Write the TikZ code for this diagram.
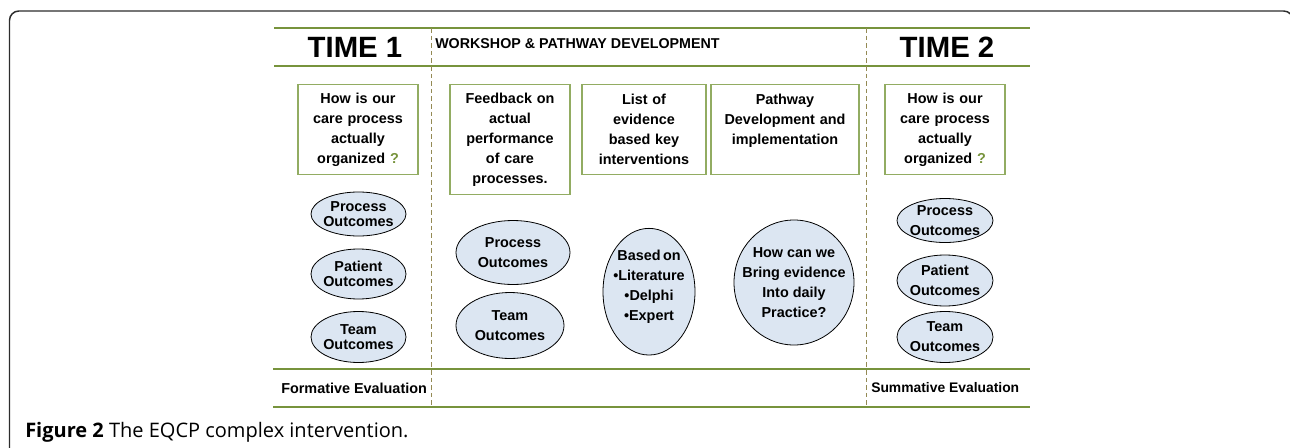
\documentclass[tikz,border=0pt]{standalone}
\usepackage{fontspec}
\usetikzlibrary{shapes.geometric}
\newfontfamily\arialfont{Liberation Sans}
\newfontfamily\captionfont{Open Sans}
\definecolor{ruleolive}{RGB}{119,147,60}
\definecolor{boxolive}{RGB}{146,172,98}
\definecolor{phasetan}{RGB}{148,138,84}
\definecolor{ovalblue}{RGB}{220,230,242}
\definecolor{framegray}{RGB}{45,45,45}
\newcommand{\labfont}{\arialfont\bfseries\fontsize{10.8}{15}\selectfont}
\newcommand{\qmark}{\textcolor{ruleolive}{?}}

\tikzset{
  qbox/.style={draw=boxolive, line width=1.1pt, anchor=north, align=center, inner sep=3pt, font=\labfont},
  oval/.style={ellipse, draw=black, fill=ovalblue, line width=0.6pt, inner xsep=-12pt, inner ysep=0pt, align=center, font=\labfont},
  tightoval/.style={oval, font=\arialfont\bfseries\fontsize{10.8}{11.25}\selectfont},
  hrule/.style={draw=ruleolive, line width=1.6pt},
  phase/.style={draw=phasetan, line width=0.75pt, dash pattern=on 3.5pt off 2.2pt},
}

\begin{document}
\begin{tikzpicture}[x=0.75pt,y=0.75pt,yscale=-1,xscale=1]
\useasboundingbox (0,0) rectangle (1290,447);

%Shape: Frame
\draw [framegray, line width=1.1pt, rounded corners=7pt] (9.5,470) -- (9.5,11) -- (1293,11) -- (1293,470);

%Table corners
\coordinate (topL) at (274,28);
\coordinate (topR) at (1030,28);
\coordinate (headL) at (274,66);
\coordinate (headR) at (1030,66);
\coordinate (footL) at (273,369);
\coordinate (footR) at (1030,369);
\coordinate (baseL) at (273,407);
\coordinate (baseR) at (1030,407);
\coordinate (cutA) at (431,28);
\coordinate (cutAb) at (431,407);
\coordinate (cutB) at (866,28);
\coordinate (cutBb) at (866,407);

%Straight Lines
\draw [hrule] (topL) -- (topR);
\draw [hrule] (headL) -- (headR);
\draw [hrule] (footL) -- (footR);
\draw [hrule] (baseL) -- (baseR);
%Straight Lines
\draw [phase] (cutA) -- (cutAb);
\draw [phase] (cutB) -- (cutBb);

% Text Node
\node (time1) at (355,47) [font=\arialfont\bfseries\fontsize{22}{26}\selectfont, inner sep=0pt] {TIME 1};
% Text Node
\node (time2) at (947,47) [font=\arialfont\bfseries\fontsize{22}{26}\selectfont, inner sep=0pt] {TIME 2};
% Text Node
\node (workshop) at (435,44) [anchor=west, font=\arialfont\bfseries\fontsize{10.7}{13}\selectfont, inner sep=0pt] {WORKSHOP \& PATHWAY DEVELOPMENT};

%Shape: Rectangle
\node [qbox, text width=84pt, minimum height=67.5pt] (ask1) at (358,84) {How is our\\care process\\actually\\organized \qmark};
\node [qbox, text width=84pt, minimum height=82.5pt] (feedback) at (510,84) {Feedback on\\actual\\performance\\of care\\processes.};
\node [qbox, text width=87pt, minimum height=67.5pt] (evidence) at (644,84) {List of\\evidence\\based key\\interventions};
\node [qbox, text width=105pt, minimum height=67.5pt] (pathway) at (785,84) {Pathway\\Development and\\implementation\\~};
\node [qbox, text width=84pt, minimum height=67.5pt] (ask2) at (945,84) {How is our\\care process\\actually\\organized \qmark};

%Shape: Ellipse
\node [tightoval, minimum width=71.25pt, minimum height=33pt] (proc1) at (358.5,214) {Process\\Outcomes};
\node [tightoval, minimum width=71.25pt, minimum height=37.5pt] (pat1) at (358.5,274) {Patient\\Outcomes};
\node [tightoval, minimum width=71.25pt, minimum height=38.25pt] (team1) at (358.5,337) {Team\\Outcomes};
%Shape: Ellipse
\node [oval, minimum width=85.5pt, minimum height=48pt] (procw) at (513,252.5) {Process\\Outcomes};
\node [oval, minimum width=81pt, minimum height=49.5pt] (teamw) at (510,325.5) {Team\\Outcomes};
\node [oval, minimum width=69pt, minimum height=95pt] (basis) at (649,291.7) {Based\,on\\•Literature\\•Delphi\\•Expert\\[-5pt]};
\node [oval, minimum width=90pt, minimum height=93.75pt] (bring) at (794,282.5) {How can we\\Bring evidence\\Into daily\\Practice?};
%Shape: Ellipse
\node [oval, minimum width=72pt, minimum height=33pt] (proc2) at (945,220.5) {Process\\Outcomes};
\node [oval, minimum width=72pt, minimum height=38.25pt] (pat2) at (945,280.5) {Patient\\Outcomes};
\node [oval, minimum width=72pt, minimum height=38.25pt] (team2) at (945,337) {Team\\Outcomes};

% Text Node
\node (formative) at (281,388) [anchor=west, inner sep=0pt, font=\arialfont\bfseries\fontsize{10.8}{13}\selectfont] {Formative Evaluation};
% Text Node
\node (summative) at (871,388) [anchor=west, inner sep=0pt, font=\arialfont\bfseries\fontsize{10.4}{13}\selectfont] {Summative Evaluation};
% Text Node
\node (caption) at (25,432) [anchor=west, inner sep=0pt, font=\captionfont\fontsize{15}{18}\selectfont] {\textbf{Figure 2} The EQCP complex intervention.};

\end{tikzpicture}
\end{document}
